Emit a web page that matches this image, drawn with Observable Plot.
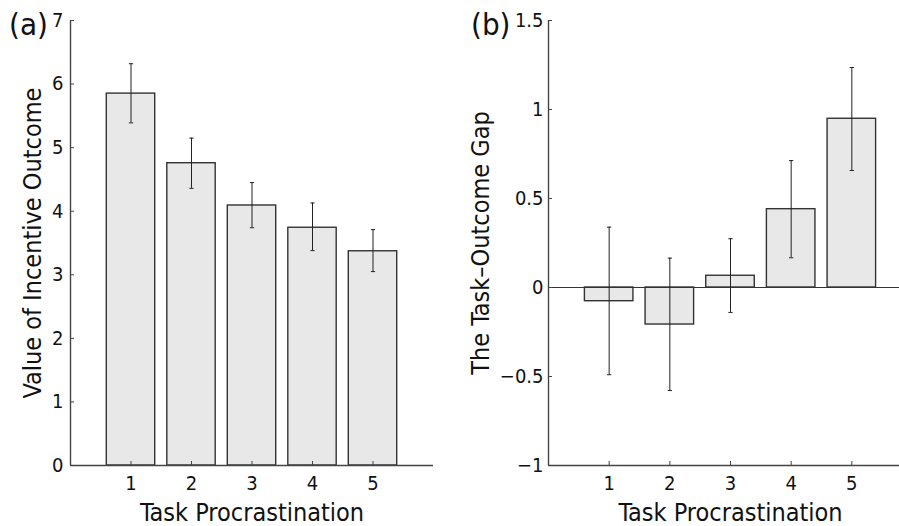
<!DOCTYPE html>
<html>
<head>
<meta charset="utf-8">
<script src="https://cdn.jsdelivr.net/npm/d3@7"></script>
<script src="https://cdn.jsdelivr.net/npm/@observablehq/plot@0.6"></script>
<style>
  html, body { margin: 0; padding: 0; background: #fff; }
  #wrap { position: relative; width: 899px; height: 526px; overflow: hidden; background: #fff;
          font-family: "Liberation Sans Narrow", "DejaVu Sans Condensed", "Roboto Condensed", sans-serif; color: #111; }
  .panel { position: absolute; top: 0; }
  .panel svg { max-width: none !important; display: block; }
  .tag { position: absolute; font-size: 31px; line-height: 1; color: #111; }
  svg [aria-label="y-axis label"], svg [aria-label="x-axis label"] { font-size: 25px; }
</style>
</head>
<body>
<div id="wrap">
  <div class="panel" id="pa" style="left:0px; width:449px"></div>
  <div class="panel" id="pb" style="left:449px; width:465px"></div>
  <div class="tag" style="left:9px; top:9px">(a)</div>
  <div class="tag" style="left:471px; top:9px">(b)</div>
</div>
<script>
// ---- data ----
const categories = [1, 2, 3, 4, 5];
const outcomeMean = [5.85, 4.755, 4.09, 3.74, 3.37];
const outcomeLow  = [5.39, 4.36, 3.74, 3.38, 3.05];
const outcomeHigh = [6.32, 5.15, 4.45, 4.13, 3.71];
const gapMean = [-0.077, -0.208, 0.066, 0.44, 0.948];
const gapLow  = [-0.49, -0.579, -0.14, 0.167, 0.657];
const gapHigh = [0.339, 0.165, 0.274, 0.713, 1.236];
const yTicksA = [0, 1, 2, 3, 4, 5, 6, 7];
const yTickLabelsA = ["0", "1", "2", "3", "4", "5", "6", "7"];
const yTicksB = [-1, -0.5, 0, 0.5, 1, 1.5];
const yTickLabelsB = ["\u22121", "\u22120.5", "0", "0.5", "1", "1.5"];
const xTickLabels = ["1", "2", "3", "4", "5"];
const xLabel = "Task Procrastination";
const yLabelA = "Value of Incentive Outcome";
const yLabelB = "The Task\u2013Outcome Gap";

const INK = "#222";
const FONT = '"Liberation Sans Narrow", "DejaVu Sans Condensed", "Roboto Condensed", sans-serif';

function panel({mean, low, high, yDomain, yTicks, yLabels, yLabel, width, marginLeft, marginRight,
                yLabelOffset, yTickPadding, zeroLine}) {
  const data = categories.map((c, i) => ({x: c, v: mean[i], lo: low[i], hi: high[i]}));
  const half = 0.4, cap = 0.035;
  return Plot.plot({
    width, height: 526,
    marginLeft, marginRight, marginTop: 20, marginBottom: 61,
    style: {fontFamily: FONT, fontSize: "20px", color: "#111", background: "transparent", overflow: "visible", maxWidth: "none"},
    x: {domain: [0, 6]},
    y: {domain: yDomain},
    marks: [
      Plot.rect(data, {x1: d => d.x - half, x2: d => d.x + half, y1: 0, y2: "v",
                       fill: "#e8e8e8", stroke: "#333", strokeWidth: 1.4}),
      zeroLine ? Plot.ruleY([0], {stroke: "#333", strokeWidth: 1.2}) : null,
      Plot.ruleX(data, {x: "x", y1: "lo", y2: "hi", stroke: INK, strokeWidth: 1}),
      Plot.link(data, {x1: d => d.x - cap, x2: d => d.x + cap, y1: "hi", y2: "hi", stroke: INK, strokeWidth: 1}),
      Plot.link(data, {x1: d => d.x - cap, x2: d => d.x + cap, y1: "lo", y2: "lo", stroke: INK, strokeWidth: 1}),
      // axis lines
      Plot.ruleX([0], {stroke: "#444", strokeWidth: 1.4}),
      Plot.ruleY([yDomain[0]], {stroke: "#444", strokeWidth: 1.4}),
      // inward tick marks
      Plot.axisY({ticks: yTicks, tickSize: 4, dx: 4, fill: "none", stroke: "#444", label: null}),
      Plot.axisX({ticks: categories, tickSize: 4, dy: -4, fill: "none", stroke: "#444", label: null}),
      // tick labels + axis titles
      Plot.axisY({ticks: yTicks, tickSize: 0, tickPadding: yTickPadding, fontSize: 20,
                  tickFormat: d => yLabels[yTicks.indexOf(d)],
                  label: yLabel, labelAnchor: "center", labelArrow: "none", labelOffset: yLabelOffset}),
      Plot.axisX({ticks: categories, tickSize: 0, tickPadding: 10, fontSize: 20,
                  tickFormat: d => xTickLabels[categories.indexOf(d)],
                  label: xLabel, labelAnchor: "center", labelArrow: "none", labelOffset: 55})
    ]
  });
}

document.getElementById("pa").appendChild(panel({
  mean: outcomeMean, low: outcomeLow, high: outcomeHigh,
  yDomain: [0, 7], yTicks: yTicksA, yLabels: yTickLabelsA, yLabel: yLabelA,
  width: 449, marginLeft: 70, marginRight: 16, yLabelOffset: 47, yTickPadding: 7, zeroLine: false
}));
document.getElementById("pb").appendChild(panel({
  mean: gapMean, low: gapLow, high: gapHigh,
  yDomain: [-1, 1.5], yTicks: yTicksB, yLabels: yTickLabelsB, yLabel: yLabelB,
  width: 465, marginLeft: 99, marginRight: 2, yLabelOffset: 77, yTickPadding: 5, zeroLine: true
}));
</script>
</body>
</html>
